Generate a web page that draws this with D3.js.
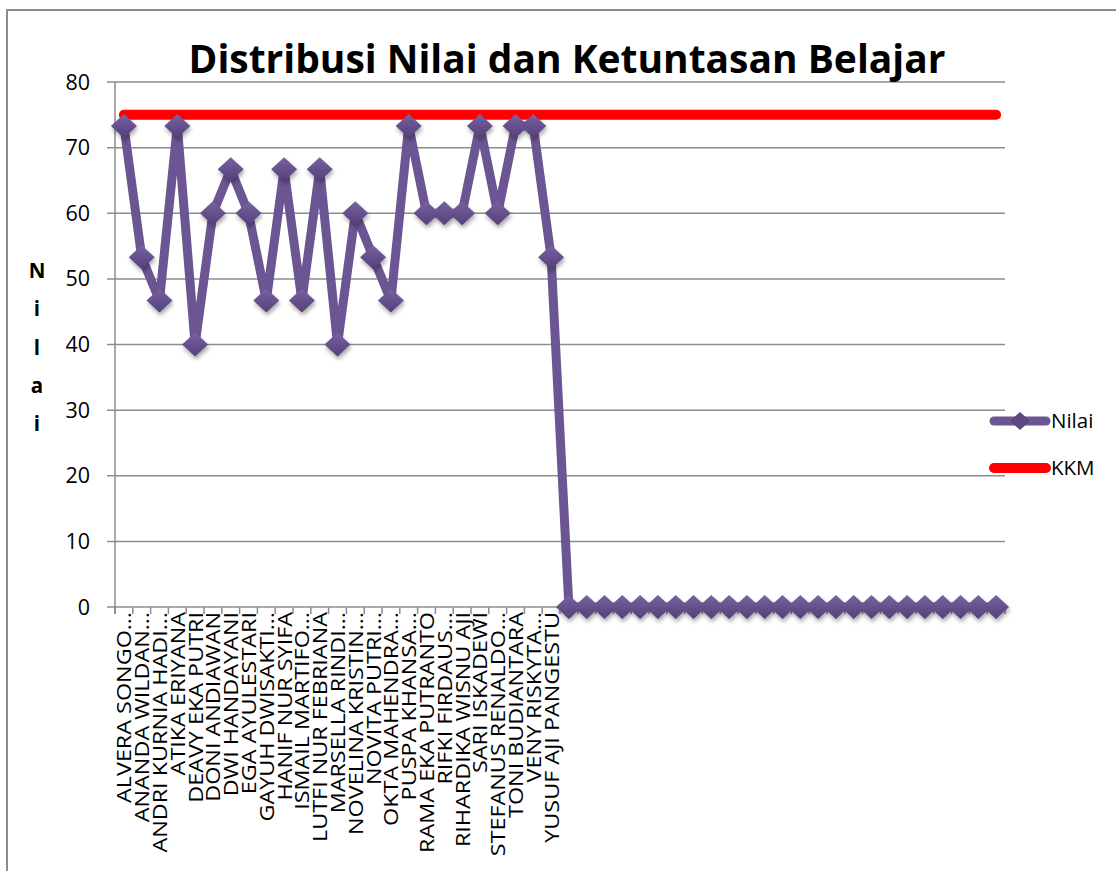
<!DOCTYPE html>
<html>
<head>
<meta charset="utf-8">
<script src="https://cdn.jsdelivr.net/npm/d3@7"></script>
<style>
  body{margin:0;background:#fff;}
  svg{display:block;font-family:"Open Sans",sans-serif;}
</style>
</head>
<body>
<svg id="chart" width="1116" height="871"></svg>
<script>
var names = ["ALVERA SONGO…","ANANDA WILDAN…","ANDRI KURNIA HADI…","ATIKA ERIYANA","DEAVY EKA PUTRI",
  "DONI ANDIAWAN","DWI HANDAYANI","EGA AYULESTARI","GAYUH DWISAKTI…","HANIF NUR SYIFA",
  "ISMAIL MARTIFO…","LUTFI NUR FEBRIANA","MARSELLA RINDI…","NOVELINA KRISTIN…","NOVITA PUTRI…",
  "OKTA MAHENDRA…","PUSPA KHANSA…","RAMA EKA PUTRANTO","RIFKI FIRDAUS…","RIHARDIKA WISNU AJI",
  "SARI ISKADEWI","STEFANUS RENALDO…","TONI BUDIANTARA","VENY RISKYTA…","YUSUF AJI PANGESTU"];
var nilai = [73.3,53.3,46.7,73.3,40,60,66.7,60,46.7,66.7,46.7,66.7,40,60,53.3,
  46.7,73.3,60,60,60,73.3,60,73.3,73.3,53.3];
var emptyRows = 25;   // blank rows in the sheet, plotted as 0
var kkm = 75;
var yTicks = [0,10,20,30,40,50,60,70,80];

var categories = names.concat(d3.range(emptyRows).map(function(i){ return "_" + i; }));
var values = nilai.concat(d3.range(emptyRows).map(function(){ return 0; }));
var rows = categories.map(function(c,i){ return {cat:c, label: i < names.length ? names[i] : "", v: values[i]}; });

var svg = d3.select('#chart');
var mLeft = 115, mRight = 1005, mTop = 82, mBottom = 607;

var x = d3.scaleBand().domain(categories).range([mLeft,mRight]);
var y = d3.scaleLinear().domain([0,80]).range([mBottom,mTop]);
var cx = function(d){ return x(d.cat) + x.bandwidth()/2; };

// defs: marker gradient + shadow
var defs = svg.append('defs');
var grad = defs.append('linearGradient').attr('id','mk').attr('x1',0).attr('y1',0).attr('x2',0).attr('y2',1);
grad.append('stop').attr('offset','0%').attr('stop-color','#7862a0');
grad.append('stop').attr('offset','100%').attr('stop-color','#553f7a');
var sh = defs.append('filter').attr('id','sh').attr('x','-50%').attr('y','-50%').attr('width','200%').attr('height','200%');
sh.append('feDropShadow').attr('dx',1).attr('dy',3).attr('stdDeviation',2).attr('flood-color','#000').attr('flood-opacity',0.35);

// outer chart border
svg.append('path').attr('d','M7,871 L7,10 L1116,10').attr('fill','none').attr('stroke','#8c8c8c').attr('stroke-width',2);

// gridlines
svg.append('g').selectAll('line').data(yTicks).join('line')
  .attr('x1',mLeft-8).attr('x2',mRight)
  .attr('y1',function(d){ return y(d); }).attr('y2',function(d){ return y(d); })
  .attr('stroke','#8c8c8c').attr('stroke-width',1.5);

// y axis line
svg.append('line').attr('x1',mLeft).attr('x2',mLeft).attr('y1',mTop).attr('y2',mBottom+7)
  .attr('stroke','#8c8c8c').attr('stroke-width',1.5);

// y tick labels
svg.append('g').selectAll('text').data(yTicks).join('text')
  .attr('x',90).attr('y',function(d){ return y(d); }).attr('dy','0.35em')
  .attr('text-anchor','end').attr('font-size',21.5).attr('fill','#000')
  .text(function(d){ return d; });

// x tick marks at category boundaries
var bounds = categories.map(function(c){ return x(c); }).concat([mRight]);
svg.append('g').selectAll('line').data(bounds).join('line')
  .attr('x1',function(d){ return d; }).attr('x2',function(d){ return d; })
  .attr('y1',mBottom).attr('y2',mBottom+7)
  .attr('stroke','#8c8c8c').attr('stroke-width',1.5);

// x labels (stretched along their length to match the sheet's font)
svg.append('g').selectAll('text').data(rows).join('text')
  .attr('transform',function(d){ return 'translate(' + (cx(d)+7.5) + ',' + (mBottom+5) + ') rotate(-90) scale(1.14,1)'; })
  .attr('text-anchor','end').attr('font-size',20.5).attr('fill','#000')
  .text(function(d){ return d.label; });

// y axis title, stacked letters
var yTitle = ['N','i','l','a','i'];
svg.append('g').selectAll('text').data(yTitle).join('text')
  .attr('x',37).attr('y',function(d,i){ return 271 + i*38.2; }).attr('dy','0.35em')
  .attr('text-anchor','middle').attr('font-size',20.5).attr('font-weight','bold')
  .text(function(d){ return d; });

// KKM line
var line = d3.line().x(cx).y(function(d){ return y(d.v); });
svg.append('path').datum(rows.map(function(r){ return {cat:r.cat, v:kkm}; }))
  .attr('d',line).attr('fill','none').attr('stroke','#ff0000').attr('stroke-width',10).attr('stroke-linecap','round');

// Nilai line
svg.append('path').datum(rows).attr('d',line)
  .attr('fill','none').attr('stroke','#6b5592').attr('stroke-width',9).attr('stroke-linejoin','miter').attr('stroke-miterlimit',3);

// diamonds
function diamond(px,py){ return 'M'+px+','+(py-12)+' L'+(px+13)+','+py+' L'+px+','+(py+12)+' L'+(px-13)+','+py+' Z'; }
svg.append('g').attr('filter','url(#sh)').selectAll('path').data(rows).join('path')
  .attr('d',function(d){ return diamond(cx(d), y(d.v)); })
  .attr('fill','url(#mk)');

// title
var title = svg.append('text').attr('x',567).attr('y',73).attr('text-anchor','middle')
  .attr('font-size',34).attr('font-weight','bold').attr('fill','#000')
  .text('Distribusi Nilai dan Ketuntasan Belajar');
var tw = title.node().getComputedTextLength();
title.attr('font-size', 34*757/tw);

// legend
var legend = [{name:'Nilai', color:'#6b5592', w:9, mk:true, y:421},{name:'KKM', color:'#ff0000', w:10, mk:false, y:468}];
var lg = svg.append('g').selectAll('g').data(legend).join('g');
lg.append('line').attr('x1',994).attr('x2',1046).attr('y1',function(d){ return d.y; }).attr('y2',function(d){ return d.y; })
  .attr('stroke',function(d){ return d.color; }).attr('stroke-width',function(d){ return d.w; }).attr('stroke-linecap','round');
lg.filter(function(d){ return d.mk; }).append('path')
  .attr('d',function(d){ return 'M1020,'+(d.y-9)+' L1030,'+d.y+' L1020,'+(d.y+9)+' L1010,'+d.y+' Z'; })
  .attr('fill','#5e4880');
lg.append('text').attr('x',1051).attr('y',function(d){ return d.y; }).attr('dy','0.35em')
  .attr('font-size',20.5).attr('fill','#000').text(function(d){ return d.name; });
</script>
</body>
</html>
